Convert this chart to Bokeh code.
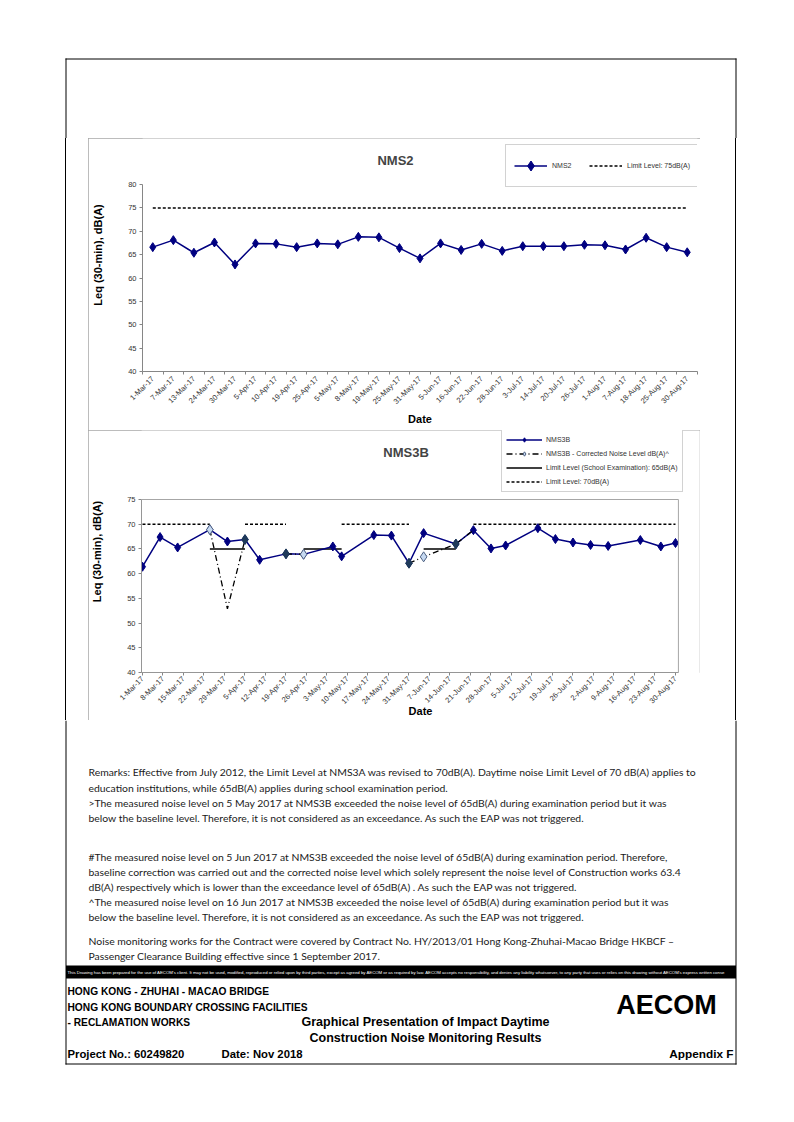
import math
import pandas as pd
from bokeh.plotting import figure
from bokeh.models import (ColumnDataSource, Range1d, FixedTicker, Legend, LegendItem,
                          InlineStyleSheet, Label, BoxAnnotation, Div)
from bokeh.layouts import column, row
from bokeh.embed import file_html
from bokeh.resources import INLINE
from bokeh.core.properties import value

nan = float("nan")

# ---------------- data ----------------
nms2_dates = ["1-Mar-17", "7-Mar-17", "13-Mar-17", "24-Mar-17", "30-Mar-17", "5-Apr-17",
              "10-Apr-17", "19-Apr-17", "25-Apr-17", "5-May-17", "8-May-17", "19-May-17",
              "25-May-17", "31-May-17", "5-Jun-17", "16-Jun-17", "22-Jun-17", "28-Jun-17",
              "3-Jul-17", "14-Jul-17", "20-Jul-17", "26-Jul-17", "1-Aug-17", "7-Aug-17",
              "18-Aug-17", "25-Aug-17", "30-Aug-17"]
nms2_leq = [66.6, 68.1, 65.4, 67.6, 62.9, 67.4, 67.3, 66.6, 67.4, 67.2, 68.8, 68.7,
            66.4, 64.2, 67.4, 66.0, 67.3, 65.8, 66.8, 66.8, 66.8, 67.1, 67.0, 66.1,
            68.6, 66.6, 65.5]
nms2_limit = 75
nms2_yticks = [40, 45, 50, 55, 60, 65, 70, 75, 80]

nms3b_dates = list(nms2_dates)
nms3b_leq = [61.4, 67.4, 65.3, 68.9, 66.5, 66.9, 62.8, 64.0, 63.9, 65.5, 63.5, 67.8,
             67.7, 62.1, 68.2, 66.0, 68.8, 65.1, 65.7, 69.2, 67.0, 66.3, 65.8, 65.6,
             66.8, 65.5, 66.2]
nms3b_corrected = [nan, nan, nan, 68.9, 52.9, 66.9, nan, 64.0, 63.9, nan, nan, nan,
                   nan, 62.1, 63.4, 66.0, 68.8, nan, nan, nan, nan, nan, nan, nan,
                   nan, nan, nan]
nms3b_limit_school = [nan, nan, nan, 65, 65, 65, nan, nan, 65, 65, 65, nan,
                      nan, nan, 65, 65, nan, nan, nan, nan, nan, nan, nan, nan,
                      nan, nan, nan]
nms3b_limit_70 = [70, 70, 70, 70, nan, 70, 70, 70, nan, nan, 70, 70,
                  70, 70, nan, nan, 70, 70, 70, 70, 70, 70, 70, 70,
                  70, 70, 70]
nms3b_ticks = ["1-Mar-17", "8-Mar-17", "15-Mar-17", "22-Mar-17", "29-Mar-17", "5-Apr-17",
               "12-Apr-17", "19-Apr-17", "26-Apr-17", "3-May-17", "10-May-17", "17-May-17",
               "24-May-17", "31-May-17", "7-Jun-17", "14-Jun-17", "21-Jun-17", "28-Jun-17",
               "5-Jul-17", "12-Jul-17", "19-Jul-17", "26-Jul-17", "2-Aug-17", "9-Aug-17",
               "16-Aug-17", "23-Aug-17", "30-Aug-17"]
nms3b_yticks = [40, 45, 50, 55, 60, 65, 70, 75]

remarks = [
    "Remarks: Effective from July 2012, the Limit Level at NMS3A was revised to 70dB(A). Daytime noise Limit Level of 70 dB(A) applies to",
    "education institutions, while 65dB(A) applies during school examination period.",
    ">The measured noise level on 5 May 2017 at NMS3B exceeded the noise level of 65dB(A) during examination period but it was",
    "below the baseline level. Therefore, it is not considered as an exceedance. As such the EAP was not triggered.",
    "#The measured noise level on 5 Jun 2017 at NMS3B exceeded the noise level of 65dB(A) during examination period. Therefore,",
    "baseline correction was carried out and the corrected noise level which solely represent the noise level of Construction works 63.4",
    "dB(A) respectively which is lower than the exceedance level of 65dB(A) .  As such the EAP was not triggered.",
    "^The measured noise level on 16 Jun 2017 at NMS3B exceeded the noise level of 65dB(A) during examination period but it was",
    "below the baseline level. Therefore, it is not considered as an exceedance. As such the EAP was not triggered.",
    "Noise monitoring works for the Contract were covered by Contract No. HY/2013/01 Hong Kong-Zhuhai-Macao Bridge HKBCF \u2013",
    "Passenger Clearance Building effective since 1 September 2017.",
]
disclaimer = ("This Drawing has been prepared for the use of AECOM's client. It may not be used, modified, "
              "reproduced or relied upon by third parties, except as agreed by AECOM or as required by law. "
              "AECOM accepts no responsibility, and denies any liability whatsoever, to any party that uses or "
              "relies on this drawing without AECOM's express written conse")
title_block_left = ["HONG KONG - ZHUHAI - MACAO BRIDGE", "HONG KONG BOUNDARY CROSSING FACILITIES",
                    "- RECLAMATION WORKS"]
title_block_center = ["Graphical Presentation of Impact Daytime", "Construction Noise Monitoring Results"]

# ---------------- helpers ----------------
FONT = "Liberation Sans"
AXC = "#868686"
NAVY = "#000080"
DAY = 86400000.0


def to_ms(s):
    return (pd.to_datetime(s, format="%d-%b-%y") - pd.Timestamp("1970-01-01")) / pd.Timedelta(milliseconds=1)


def outline_css():
    return [InlineStyleSheet(css=":host { outline: 1px solid #a6a6a6; outline-offset: -1px; }")]


def style_axes(p):
    for ax in (p.xaxis[0], p.yaxis[0]):
        ax.axis_line_color = AXC
        ax.major_tick_line_color = AXC
        ax.minor_tick_line_color = None
        ax.major_tick_in = 0
        ax.major_tick_out = 3
        ax.major_label_standoff = 3
        ax.major_label_text_font = FONT
        ax.major_label_text_font_size = "7.5px"
        ax.major_label_text_color = "#333333"
        ax.axis_label_text_font = FONT
        ax.axis_label_text_font_style = "bold"
        ax.axis_label_text_font_size = "11px"
        ax.axis_label_text_color = "black"
    p.xgrid.grid_line_color = None
    p.ygrid.grid_line_color = None


def blank(w, h):
    p = figure(width=w, height=h, x_range=Range1d(0, w), y_range=Range1d(h, 0),
               x_axis_location=None, y_axis_location=None,
               toolbar_location=None, output_backend="svg",
               min_border=0, outline_line_color=None)
    p.xgrid.grid_line_color = None
    p.ygrid.grid_line_color = None
    return p


def vstrip(w, h, line_x):
    grad = (f"linear-gradient(to right, transparent {line_x}px, #000 {line_x}px, "
            f"#000 {line_x + 1}px, transparent {line_x + 1}px)")
    return Div(text="", width=w, height=h, margin=0, styles={"background": grad})


# ---------------- chart 1: NMS2 ----------------
x1 = list(range(len(nms2_dates)))
p1 = figure(width=612, height=292, x_range=Range1d(-0.5, len(nms2_dates) - 0.5),
            y_range=Range1d(40, 89.84), output_backend="svg", toolbar_location=None,
            min_border_left=54, min_border_right=3, min_border_top=0, min_border_bottom=59,
            outline_line_color=None, stylesheets=outline_css())
style_axes(p1)
p1.yaxis.ticker = FixedTicker(ticks=nms2_yticks, minor_ticks=[])
p1.yaxis.bounds = (40, 80)
p1.xaxis.ticker = FixedTicker(ticks=x1, minor_ticks=[i - 0.5 for i in range(len(x1) + 1)])
p1.xaxis.major_label_overrides = {i: lab for i, lab in zip(x1, nms2_dates)}
p1.xaxis.major_tick_line_color = None
p1.xaxis.minor_tick_line_color = AXC
p1.xaxis.minor_tick_in = 0
p1.xaxis.minor_tick_out = 3
p1.xaxis.major_label_orientation = math.pi / 4
p1.xaxis.axis_label = "Date"
p1.yaxis.axis_label = "Leq (30-min), dB(A)"
p1.yaxis.axis_label_standoff = 21
p1.xaxis.axis_label_standoff = 1

src1 = ColumnDataSource(dict(x=x1, y=nms2_leq, lim=[nms2_limit] * len(x1)))
lim1 = p1.line("x", "lim", source=src1, line_color="black", line_width=1.5, line_dash="3 2")
l1 = p1.line("x", "y", source=src1, line_color=NAVY, line_width=1.5)
m1 = p1.scatter("x", "y", source=src1, marker="diamond", size=9, fill_color=NAVY, line_color=NAVY)

p1.add_layout(Label(x=11.81, y=85.13, text="NMS2", text_font=FONT, text_font_size="13px",
                    text_font_style="bold", text_align="center", text_baseline="middle"))

leg1 = Legend(items=[LegendItem(label="NMS2", renderers=[l1, m1]),
                     LegendItem(label="Limit Level: 75dB(A)", renderers=[lim1])],
              location=(363, 184), orientation="horizontal", margin=0, padding=8,
              spacing=17, glyph_width=33, glyph_height=25, label_height=25, label_standoff=5,
              label_text_font=FONT, label_text_font_size="7px", label_text_color="#333333",
              border_line_color="#a6a6a6", background_fill_color="white", background_fill_alpha=1)
p1.add_layout(leg1)

# ---------------- chart 2: NMS3B ----------------
x3 = [to_ms(d) for d in nms3b_dates]
tick_ms = [to_ms(d) for d in nms3b_ticks]
x_start = tick_ms[0] - 0.34 * DAY
x_plot_end = tick_ms[0] + 183.0 * DAY
p2 = figure(width=612, height=290, x_axis_type="datetime",
            x_range=Range1d(x_start, tick_ms[0] + 190.2 * DAY),
            y_range=Range1d(40, 88.96), output_backend="svg", toolbar_location=None,
            min_border_left=52, min_border_right=1, min_border_top=0, min_border_bottom=48,
            outline_line_color=None, stylesheets=outline_css())
style_axes(p2)
p2.yaxis.ticker = FixedTicker(ticks=nms3b_yticks, minor_ticks=[])
p2.yaxis.bounds = (40, 75)
p2.xaxis.bounds = (x_start, x_plot_end)
p2.xaxis.ticker = FixedTicker(ticks=tick_ms, minor_ticks=[])
p2.xaxis.major_label_overrides = {t: lab for t, lab in zip(tick_ms, nms3b_ticks)}
p2.xaxis.major_label_orientation = math.pi / 4
p2.xaxis.major_label_standoff = 2
p2.xaxis.axis_label = "Date"
p2.yaxis.axis_label = "Leq (30-min), dB(A)"
p2.yaxis.axis_label_standoff = 21
p2.xaxis.axis_label_standoff = -7
p2.add_layout(BoxAnnotation(left=x_start, right=x_plot_end, bottom=40, top=75,
                            fill_alpha=0, line_color="#a6a6a6", line_width=1, line_alpha=1))

src2 = ColumnDataSource(dict(x=x3, y=nms3b_leq, corr=nms3b_corrected,
                             school=nms3b_limit_school, l70=nms3b_limit_70))
lim70 = p2.line("x", "l70", source=src2, line_color="black", line_width=1.5, line_dash="3 2")
school = p2.line("x", "school", source=src2, line_color="black", line_width=1.5)
l2 = p2.line("x", "y", source=src2, line_color=NAVY, line_width=1.5)
m2 = p2.scatter("x", "y", source=src2, marker="diamond", size=9, fill_color=NAVY, line_color=NAVY)
corr_line = p2.line("x", "corr", source=src2, line_color="black", line_width=1.3, line_dash="6 3 1 3")

light_idx = [3, 8, 14]
dark_idx = [5, 7, 13, 15]
src_light = ColumnDataSource(dict(x=[x3[i] for i in light_idx], y=[nms3b_corrected[i] for i in light_idx]))
src_dark = ColumnDataSource(dict(x=[x3[i] for i in dark_idx], y=[nms3b_corrected[i] for i in dark_idx]))
corr_dark = p2.scatter("x", "y", source=src_dark, marker="diamond", size=10,
                       fill_color="#1f3a5a", line_color="#1f3a5a")
corr_light = p2.scatter("x", "y", source=src_light, marker="diamond", size=10,
                        fill_color="#c6d9f1", line_color="#4f6283", line_width=1)

p2.add_layout(Label(x=tick_ms[0] + 90.0 * DAY, y=84.5, text="NMS3B", text_font=FONT,
                    text_font_size="13px", text_font_style="bold", text_align="center",
                    text_baseline="middle"))

leg2 = Legend(items=[LegendItem(label="NMS3B", renderers=[l2, m2]),
                     LegendItem(label="NMS3B - Corrected Noise Level dB(A)^", renderers=[corr_line, corr_light]),
                     LegendItem(label="Limit Level (School Examination): 65dB(A)", renderers=[school]),
                     LegendItem(label="Limit Level: 70dB(A)", renderers=[lim70])],
              location=(360, 180), orientation="vertical", margin=0, padding=4,
              spacing=3, glyph_width=36, glyph_height=11, label_height=11, label_standoff=4,
              label_text_font=FONT, label_text_font_size="7px", label_text_color="#333333",
              border_line_color="#a6a6a6", background_fill_color="white", background_fill_alpha=1)
p2.add_layout(leg2)

# ---------------- page frame pieces ----------------
top = blank(786, 138)
top.segment(x0=[65, 65.5, 735.5], y0=[58.5, 58, 58], x1=[736, 65.5, 735.5], y1=[58.5, 138, 138],
            line_color="black", line_width=1)

bot = blank(737, 346)
bot.segment(x0=[65.5, 735.5, 65], y0=[0, 0, 343.5], x1=[65.5, 735.5, 736], y1=[344, 344, 343.5],
            line_color="black", line_width=1)
rem_y = [51, 67, 82, 97, 136, 151, 166, 181, 196, 220, 235]
bot.text(x=[88] * len(remarks), y=rem_y, text=remarks, text_font=value("Lato"),
         text_font_size=value("10.4px"), text_color="#1a1a1a", text_baseline="middle",
         text_align="left")
bot.quad(left=[65.5], right=[735.5], top=[245], bottom=[258], fill_color="black", line_color=None)
bot.text(x=[67], y=[251.5], text=[disclaimer], text_font=value(FONT),
         text_font_size=value("4.3px"), text_color="white", text_baseline="middle", text_align="left")
bot.text(x=[67, 67, 67], y=[271, 287, 302], text=title_block_left, text_font=value(FONT),
         text_font_size=value("10.2px"), text_font_style="bold", text_color="black",
         text_baseline="middle", text_align="left")
bot.text(x=[425, 425], y=[301, 317], text=title_block_center, text_font=value(FONT),
         text_font_size=value("12.5px"), text_font_style="bold", text_color="black",
         text_baseline="middle", text_align="center")
bot.text(x=[67, 221], y=[333, 333], text=["Project No.: 60249820", "Date: Nov 2018"],
         text_font=value(FONT), text_font_size=value("11.3px"), text_font_style="bold",
         text_color="black", text_baseline="middle", text_align="left")
bot.text(x=[733], y=[333], text=["Appendix F"], text_font=value(FONT), text_font_size=value("11.8px"),
         text_font_style="bold", text_color="black", text_baseline="middle", text_align="right")
bot.text(x=[666], y=[284], text=["AECOM"], text_font=value(FONT),
         text_font_size=value("27px"), text_font_style="bold", text_color="black",
         text_baseline="middle", text_align="center")

layout = column(
    top,
    row(vstrip(88, 292, 65), p1, vstrip(86, 292, 35)),
    row(vstrip(88, 290, 65), p2, vstrip(86, 290, 35)),
    bot,
)

open("out.html", "w").write(file_html(layout, INLINE))
